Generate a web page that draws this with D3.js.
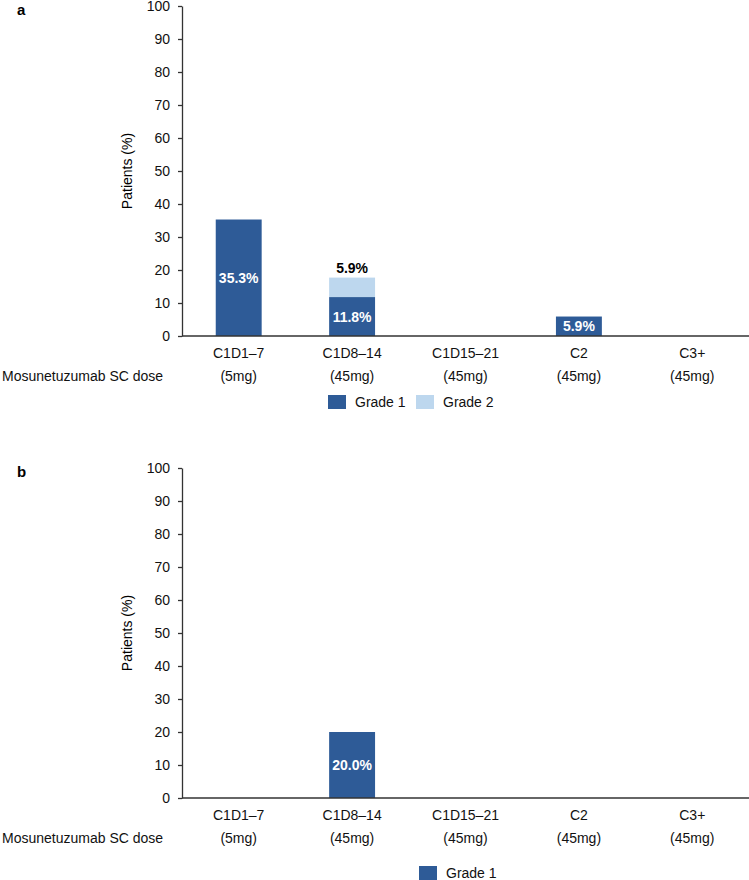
<!DOCTYPE html>
<html>
<head>
<meta charset="utf-8">
<script src="https://cdnjs.cloudflare.com/ajax/libs/d3/7.8.5/d3.min.js"></script>
<style>
  body { margin: 0; background: #fff; }
  svg text { font-family: Arial, "Liberation Sans", sans-serif; }
</style>
</head>
<body>
<div id="chart"></div>
<script>
// categories and dose labels (shared by both panels)
const categories = ["C1D1–7", "C1D8–14", "C1D15–21", "C2", "C3+"];
const doses = ["(5mg)", "(45mg)", "(45mg)", "(45mg)", "(45mg)"];
const yTicks = [0, 10, 20, 30, 40, 50, 60, 70, 80, 90, 100];

// panel a
const aGrade1 = [35.3, 11.8, 0, 5.9, 0];
const aGrade2 = [0, 5.9, 0, 0, 0];
// panel b
const bGrade1 = [0, 20.0, 0, 0, 0];

const dark = "#2e5b97", light = "#bdd7ee";

const svg = d3.select("#chart").append("svg")
    .attr("width", 749).attr("height", 880);

function drawPanel(letter, top, bottom, grade1, grade2, legendX, legendY) {
  let g = svg.append("g");

  let x = d3.scaleBand().domain(categories).range([182, 749]).paddingInner(0.595).paddingOuter(0.2975);
  let y = d3.scaleLinear().domain([0, 100]).range([bottom, top]);

  g.append("text").attr("x", 17).attr("y", top + 9)
   .style("font-weight", "bold").style("font-size", "15px").text(letter);

  // y axis
  let ya = g.append("g").attr("transform", "translate(182,0)")
    .call(d3.axisLeft(y).tickValues(yTicks).tickSize(4).tickPadding(8).tickSizeOuter(0));
  ya.select(".domain").attr("stroke", "#333").attr("stroke-width", 1.3);
  ya.selectAll(".tick line").attr("stroke", "#333").attr("stroke-width", 1.3);
  ya.selectAll(".tick text").style("font-size", "14px").attr("fill", "#111")
    .style("font-family", "Arial, 'Liberation Sans', sans-serif");

  g.append("text")
   .attr("transform", "translate(127," + ((top + bottom) / 2) + ") rotate(-90)")
   .attr("text-anchor", "middle").attr("dy", "0.35em")
   .style("font-size", "14px").text("Patients (%)");

  // bars
  let stack = categories.map((c, i) => ({c: c, g1: grade1[i], g2: grade2 ? grade2[i] : 0}));

  g.selectAll(".b1").data(stack.filter(d => d.g1 > 0)).enter().append("rect")
   .attr("x", d => x(d.c)).attr("width", x.bandwidth())
   .attr("y", d => y(d.g1)).attr("height", d => y(0) - y(d.g1))
   .attr("fill", dark);

  g.selectAll(".b2").data(stack.filter(d => d.g2 > 0)).enter().append("rect")
   .attr("x", d => x(d.c)).attr("width", x.bandwidth())
   .attr("y", d => y(d.g1 + d.g2)).attr("height", d => y(d.g1) - y(d.g1 + d.g2))
   .attr("fill", light);

  g.selectAll(".l1").data(stack.filter(d => d.g1 > 0)).enter().append("text")
   .attr("x", d => x(d.c) + x.bandwidth() / 2)
   .attr("y", d => (y(0) + y(d.g1)) / 2).attr("dy", "0.36em")
   .attr("text-anchor", "middle").attr("fill", "#fff")
   .style("font-weight", "bold").style("font-size", "14px")
   .text(d => d.g1.toFixed(1) + "%");

  g.selectAll(".l2").data(stack.filter(d => d.g2 > 0)).enter().append("text")
   .attr("x", d => x(d.c) + x.bandwidth() / 2)
   .attr("y", d => y(d.g1 + d.g2) - 5)
   .attr("text-anchor", "middle").attr("fill", "#000")
   .style("font-weight", "bold").style("font-size", "14px")
   .text(d => d.g2.toFixed(1) + "%");

  // x axis line
  g.append("line").attr("x1", 182).attr("x2", 749)
   .attr("y1", y(0)).attr("y2", y(0))
   .attr("stroke", "#333").attr("stroke-width", 1.3);

  let xl = g.selectAll(".xl").data(categories).enter().append("text")
   .attr("text-anchor", "middle").style("font-size", "14px").attr("fill", "#111");
  xl.append("tspan").attr("x", d => x(d) + x.bandwidth() / 2).attr("y", y(0) + 22).text(d => d);
  xl.append("tspan").attr("x", d => x(d) + x.bandwidth() / 2).attr("y", y(0) + 45)
    .text((d, i) => doses[i]);

  g.append("text").attr("x", 2).attr("y", y(0) + 45)
   .style("font-size", "14px").attr("fill", "#111").text("Mosunetuzumab SC dose");

  // legend
  let items = grade2 ? [["Grade 1", dark], ["Grade 2", light]] : [["Grade 1", dark]];
  let lg = g.selectAll(".lg").data(items).enter().append("g")
   .attr("transform", (d, i) => "translate(" + (legendX + i * 88) + "," + legendY + ")");
  lg.append("rect").attr("width", 18).attr("height", 14).attr("fill", d => d[1]);
  lg.append("text").attr("x", 27).attr("y", 12).style("font-size", "14px")
    .attr("fill", "#111").text(d => d[0]);
}

drawPanel("a", 6, 336, aGrade1, aGrade2, 328, 395);
drawPanel("b", 468, 798, bGrade1, null, 419, 866);
</script>
</body>
</html>
